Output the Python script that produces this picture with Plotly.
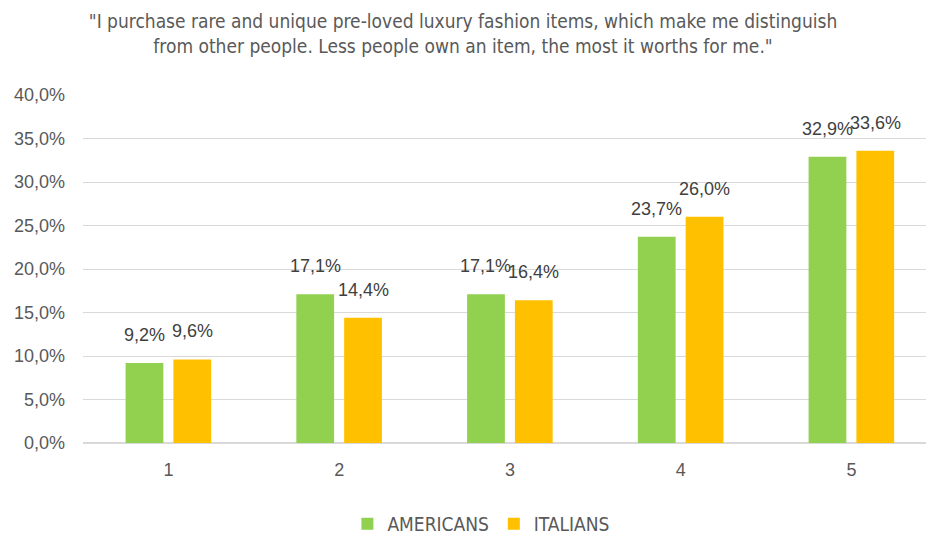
import plotly.graph_objects as go

categories = ["1", "2", "3", "4", "5"]
americans = [9.2, 17.1, 17.1, 23.7, 32.9]
italians = [9.6, 14.4, 16.4, 26.0, 33.6]
y_ticks = [0, 5, 10, 15, 20, 25, 30, 35, 40]

title_text = ('"I purchase rare and unique pre-loved luxury fashion items, which make me distinguish<br>'
              'from other people. Less people own an item, the most it worths for me."')

narrow = "Liberation Sans Narrow, DejaVu Sans Condensed, Arial Narrow, sans-serif"
sans = "Liberation Sans, Arial, sans-serif"


def fmt(v):
    return f"{v:.1f}%".replace(".", ",")


fig = go.Figure()
fig.add_trace(go.Bar(name="AMERICANS", x=categories, y=americans,
                     marker=dict(color="#92D050", line=dict(width=0))))
fig.add_trace(go.Bar(name="ITALIANS", x=categories, y=italians,
                     marker=dict(color="#FFC000", line=dict(width=0))))

annotations = []
for series, shift in ((americans, -24), (italians, 24)):
    for i, v in enumerate(series):
        annotations.append(dict(x=i, y=v, xref="x", yref="y", text=fmt(v),
                                showarrow=False, xshift=shift, yshift=28,
                                yanchor="middle",
                                font=dict(family=sans, size=18, color="#404040")))

fig.update_layout(
    width=926, height=536,
    paper_bgcolor="white", plot_bgcolor="white",
    margin=dict(l=83, r=0, t=95, b=93, autoexpand=False),
    separators=",.",
    barmode="group", bargap=0.44, bargroupgap=0.21,
    title=dict(text=title_text, x=0.5, xref="container", xanchor="center",
               y=0.947, yref="container", yanchor="middle",
               font=dict(family=narrow, size=19, color="#595959")),
    font=dict(family=sans, color="#595959"),
    xaxis=dict(type="category", range=[-0.5, 4.437], showgrid=False, zeroline=False,
               showline=False, ticks="", ticklabelstandoff=14,
               tickfont=dict(family=sans, size=18, color="#595959")),
    yaxis=dict(range=[0, 40], tickvals=y_ticks, ticktext=[fmt(t) for t in y_ticks],
               showgrid=True, gridcolor="#D9D9D9", gridwidth=1,
               zeroline=True, zerolinecolor="#D9D9D9", zerolinewidth=1.5,
               showline=False, ticks="", ticklabelstandoff=17,
               tickfont=dict(family=sans, size=18, color="#595959")),
    legend=dict(orientation="h", x=0.472, xanchor="center",
                y=0.0224, yref="container", yanchor="middle",
                font=dict(family=narrow, size=19, color="#595959"),
                itemclick=False, traceorder="normal"),
    annotations=annotations,
)

fig.write_html("out.html", config={"displayModeBar": False},
               post_script="document.body.style.margin='0';document.body.style.overflow='hidden';")
